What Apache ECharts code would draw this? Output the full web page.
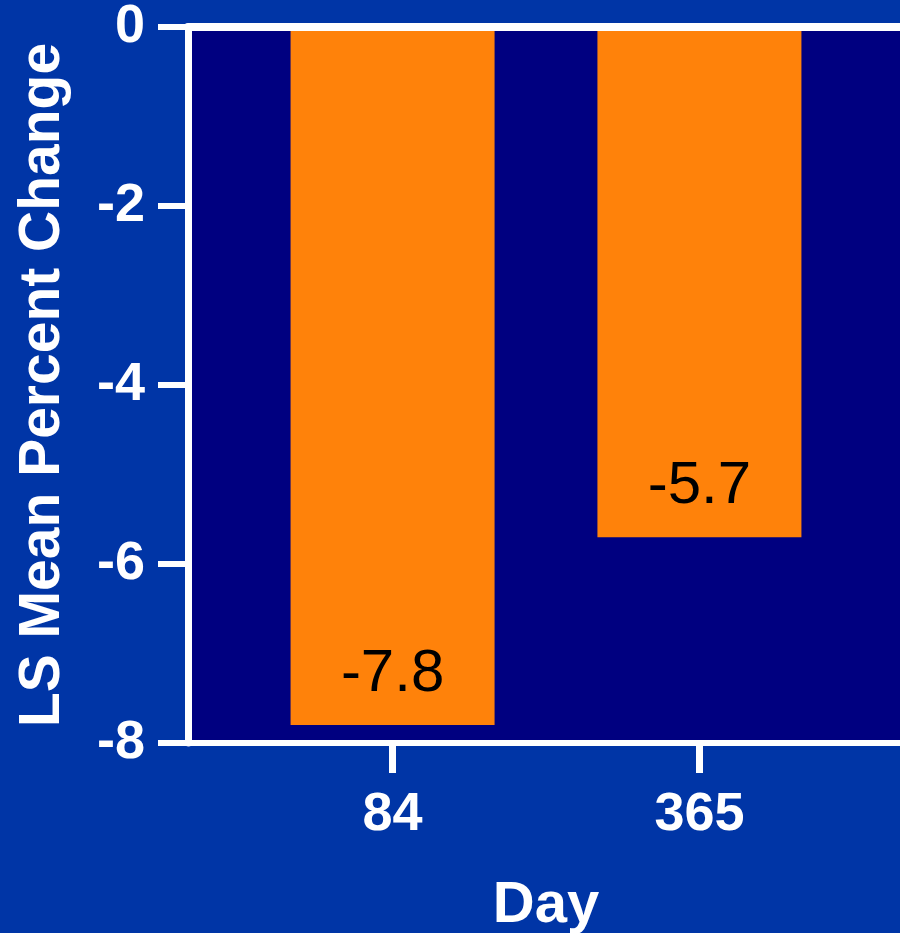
<!DOCTYPE html>
<html>
<head>
<meta charset="utf-8">
<title>LS Mean Percent Change by Day</title>
<script src="https://cdn.jsdelivr.net/npm/echarts@6/dist/echarts.min.js"></script>
<style>
  html, body { margin: 0; padding: 0; background: #0035A6; overflow: hidden; }
  #chart { width: 900px; height: 933px; }
</style>
</head>
<body>
<div id="chart"></div>
<script>
// Study days and the least-squares mean percent change at each
const days = ['84', '365'];
const lsMeanChange = [-7.8, -5.7];
const yTicks = [0, -2, -4, -6, -8];

// Bars sit in evenly gapped slots along a plain numeric x scale
const slotFirst = 2;
const slotStep = 3;
const slotSpan = 7;
const slotOf = i => slotFirst + i * slotStep;
const slots = days.map((_, i) => slotOf(i));

const font = "'Liberation Sans', Arial, Helvetica, sans-serif";
const white = '#FFFFFF';

const chart = echarts.init(document.getElementById('chart'), null, { renderer: 'canvas' });

chart.setOption({
  backgroundColor: '#0035A6',
  animation: false,
  grid: {
    left: 188,
    right: -4,
    top: 27,
    bottom: 190,
    outerBoundsMode: 'none',
    containLabel: false,
    show: true,
    backgroundColor: '#000080',
    borderWidth: 0
  },
  xAxis: [
    {
      type: 'value',
      position: 'bottom',
      min: 0,
      max: slotSpan,
      name: 'Day',
      nameLocation: 'middle',
      nameGap: 134,
      nameTextStyle: { color: white, fontFamily: font, fontWeight: 'bold', fontSize: 58 },
      axisLine: { show: true, onZero: false, lineStyle: { color: white, width: 6 } },
      axisTick: { show: true, length: 30, customValues: slots, lineStyle: { color: white, width: 7 } },
      axisLabel: {
        show: true,
        customValues: slots,
        margin: 45,
        color: white,
        fontFamily: font,
        fontWeight: 'bold',
        fontSize: 54,
        formatter: v => {
          const i = slots.indexOf(v);
          return i >= 0 ? days[i] : '';
        }
      },
      splitLine: { show: false }
    },
    {
      // zero line across the top of the plot
      type: 'value',
      position: 'top',
      min: 0,
      max: slotSpan,
      z: 5,
      axisLine: { show: true, onZero: false, lineStyle: { color: white, width: 8 } },
      axisTick: { show: false },
      axisLabel: { show: false },
      splitLine: { show: false }
    }
  ],
  yAxis: {
    type: 'value',
    min: yTicks[yTicks.length - 1],
    max: yTicks[0],
    interval: 2,
    name: 'LS Mean Percent Change',
    nameLocation: 'middle',
    nameRotate: 90,
    nameGap: 116,
    nameTextStyle: { color: white, fontFamily: font, fontWeight: 'bold', fontSize: 57 },
    axisLine: { show: true, lineStyle: { color: white, width: 7 } },
    axisTick: { show: true, length: 30, lineStyle: { color: white, width: 6 } },
    axisLabel: {
      margin: 43,
      color: white,
      fontFamily: font,
      fontWeight: 'bold',
      fontSize: 54
    },
    splitLine: { show: false }
  },
  series: [
    {
      type: 'bar',
      xAxisIndex: 0,
      barWidth: 204,
      itemStyle: { color: '#FF820A' },
      data: lsMeanChange.map((v, i) => [slotOf(i), v]),
      label: {
        show: true,
        position: 'insideBottom',
        distance: 21,
        color: '#000000',
        fontFamily: font,
        fontWeight: 'normal',
        fontSize: 60,
        formatter: p => p.value[1].toFixed(1)
      }
    }
  ]
});
</script>
</body>
</html>
